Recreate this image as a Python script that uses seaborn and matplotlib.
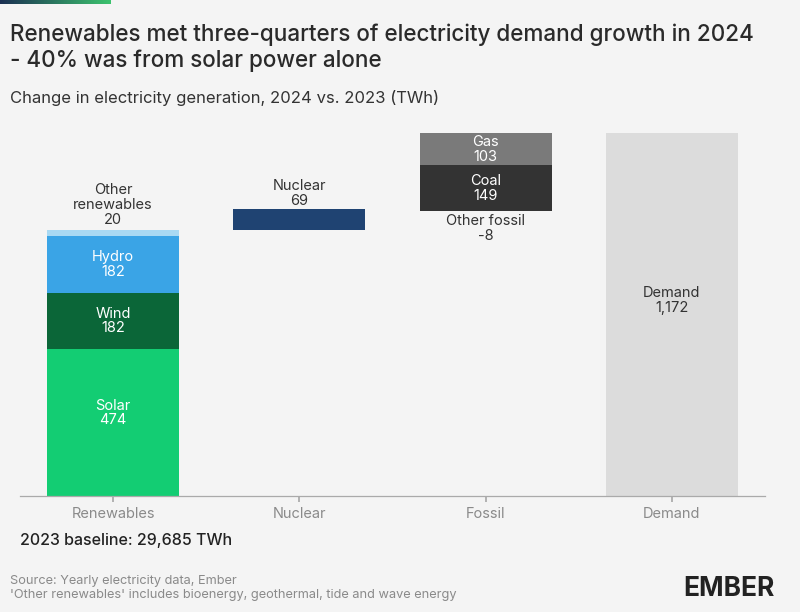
import numpy as np
import pandas as pd
import matplotlib
matplotlib.use("Agg")
import matplotlib.pyplot as plt
import seaborn as sns
from matplotlib.transforms import offset_copy

# data (TWh change, 2024 vs 2023)
categories = ["Renewables", "Nuclear", "Fossil", "Demand"]
segments = ["Solar", "Wind", "Hydro", "Other renewables", "Nuclear", "Other fossil", "Coal", "Gas", "Demand"]
segment_cat = ["Renewables", "Renewables", "Renewables", "Renewables", "Nuclear", "Fossil", "Fossil", "Fossil", "Demand"]
values = [474, 182, 182, 20, 69, -8, 149, 103, 1172]
colors = ["#13cd73", "#0b6638", "#3aa4e6", "#a9d9f3", "#1f4372", "#6e6e6e", "#333333", "#7a7a7a", "#dcdcdc"]
label_pos = ["in", "in", "in", "above", "above", "below", "in", "in", "in"]
label_text = ["Solar\n474", "Wind\n182", "Hydro\n182", "Other\nrenewables\n20", "Nuclear\n69",
              "Other fossil\n-8", "Coal\n149", "Gas\n103", "Demand\n1,172"]

# waterfall bases
bases = []
running = 0
for seg, v in zip(segments, values):
    if seg == "Demand":
        bases.append(0)
    elif v < 0:
        running += v
        bases.append(running)
    else:
        bases.append(running)
        running += v
heights = [abs(v) for v in values]

df = pd.DataFrame({"segment": segments, "category": segment_cat, "height": heights, "base": bases})

# small nudges (points) for a few labels
nudge = {"Solar": 7, "Demand": 10, "Nuclear": -2}

BG = "#f4f4f4"
sns.set_theme(style="white")
plt.rcParams["font.family"] = ["Inter", "DejaVu Sans"]

fig = plt.figure(figsize=(8, 6.12), dpi=100, facecolor=BG)
ax = fig.add_axes([20 / 800, 1 - 496 / 612, 745 / 800, 376 / 612])
ax.set_facecolor(BG)

for i, row in df.iterrows():
    sub = df.iloc[[i]]
    sns.barplot(data=sub, x="category", y="height", order=categories, color=colors[i],
                bottom=row["base"], width=0.71, saturation=1, ax=ax, linewidth=0)
    cx = categories.index(row["category"])
    top = row["base"] + row["height"]
    txt = label_text[i]
    tr = offset_copy(ax.transData, fig=fig, x=0, y=nudge.get(row["segment"], 0), units="points")
    if label_pos[i] == "in":
        c = "#333333" if row["segment"] == "Demand" else "white"
        ax.text(cx, row["base"] + row["height"] / 2, txt, ha="center", va="center",
                color=c, fontsize=10.5, linespacing=1.05, transform=tr)
    elif label_pos[i] == "above":
        ax.text(cx, top + 12, txt, ha="center", va="bottom", color="#333333",
                fontsize=10.5, linespacing=1.05, transform=tr)
    else:
        ax.text(cx, row["base"] - 10, txt, ha="center", va="top", color="#333333",
                fontsize=10.5, linespacing=1.05, transform=tr)

ax.set_xlim(-0.5, 3.5)
ax.set_ylim(0, 376 / (363 / 1172))
ax.set_xlabel("")
ax.set_ylabel("")
ax.set_yticks([])
ax.set_xticks(range(len(categories)))
ax.set_xticklabels(categories, color="#8a8a8a", fontsize=10.5)
ax.tick_params(axis="x", length=4, color="#aaaaaa", pad=4, bottom=True)
for s in ["top", "right", "left"]:
    ax.spines[s].set_visible(False)
ax.spines["bottom"].set_color("#aaaaaa")
ax.spines["bottom"].set_linewidth(0.9)

# header gradient strip
gax = fig.add_axes([0, 1 - 4 / 612, 110 / 800, 4 / 612])
grad = np.linspace(0, 1, 256).reshape(1, -1)
cmap = matplotlib.colors.LinearSegmentedColormap.from_list("g", ["#1b2f52", "#3cc36e"])
gax.imshow(grad, aspect="auto", cmap=cmap)
gax.axis("off")

fig.text(10 / 800, 1 - 23 / 612, "Renewables met three-quarters of electricity demand growth in 2024\n- 40% was from solar power alone",
         ha="left", va="top", fontsize=16.2, color="#2a2a2a", fontweight="medium", linespacing=1.25)
fig.text(10 / 800, 1 - 98 / 612, "Change in electricity generation, 2024 vs. 2023 (TWh)",
         ha="left", va="center", fontsize=12, color="#333333")
fig.text(20 / 800, 1 - 540 / 612, "2023 baseline: 29,685 TWh", ha="left", va="center",
         fontsize=11.5, color="#222222", fontweight="medium")
fig.text(10 / 800, 1 - 588 / 612, "Source: Yearly electricity data, Ember\n'Other renewables' includes bioenergy, geothermal, tide and wave energy",
         ha="left", va="center", fontsize=9.2, color="#8a8a8a", linespacing=1.15)
fig.text(775 / 800, 1 - 589 / 612, "EMBER", ha="right", va="center", fontsize=19,
         fontweight="bold", color="#222222")

fig.savefig("out.png", dpi=100, facecolor=BG)
